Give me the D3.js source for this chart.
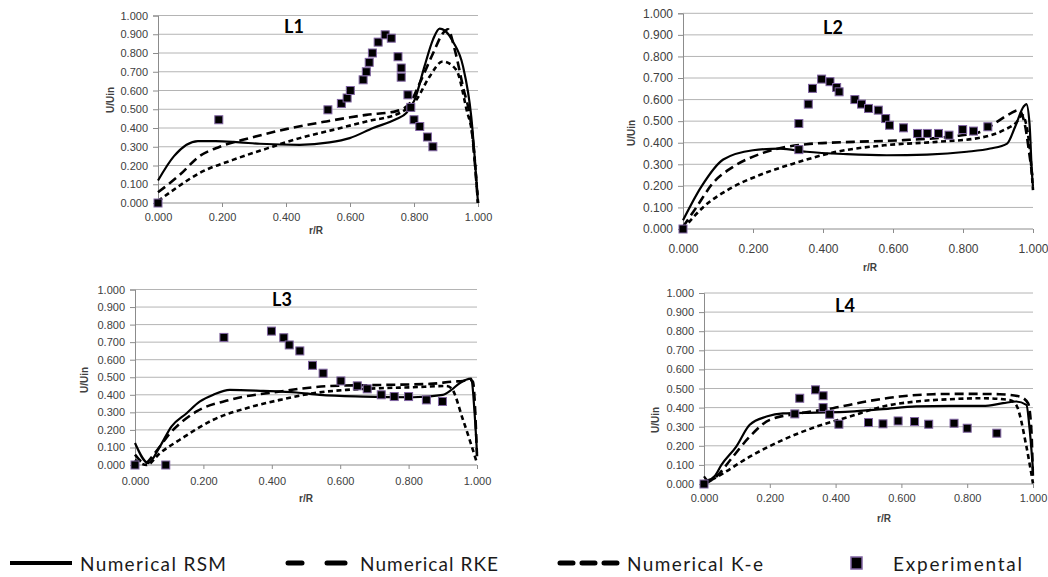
<!DOCTYPE html>
<html>
<head>
<meta charset="utf-8">
<script src="https://cdn.jsdelivr.net/npm/d3@7"></script>
<style>
  body { margin: 0; background: #fff; }
  svg { display: block; }
  .tick text { font-family: "Liberation Sans", Arial, sans-serif; fill: #404040; }
</style>
</head>
<body>
<div id="chart"></div>
<script>
// axis ticks
var xTicks = [0, 0.2, 0.4, 0.6, 0.8, 1.0];
var yTicks = [0, 0.1, 0.2, 0.3, 0.4, 0.5, 0.6, 0.7, 0.8, 0.9, 1.0];

var seriesNames = ["Numerical RSM", "Numerical RKE", "Numerical K-e", "Experimental"];

// L1  [r/R, U/Uin]
var l1Rsm = [[0,0.12],[0.05,0.25],[0.125,0.33],[0.18,0.33],[0.255,0.323],[0.318,0.316],[0.443,0.31],[0.536,0.323],
  [0.599,0.346],[0.672,0.40],[0.745,0.448],[0.776,0.48],[0.802,0.55],[0.833,0.73],[0.859,0.87],[0.88,0.93],
  [0.896,0.92],[0.922,0.86],[0.953,0.73],[0.979,0.46],[1.0,0.0]];
var l1Rke = [[0,0.057],[0.068,0.15],[0.13,0.25],[0.193,0.30],[0.286,0.346],[0.40,0.394],[0.526,0.435],[0.651,0.47],
  [0.745,0.49],[0.786,0.53],[0.818,0.64],[0.86,0.80],[0.89,0.905],[0.906,0.927],[0.927,0.82],[0.953,0.62],
  [0.979,0.41],[1.0,0.0]];
var l1Ke = [[0,0.01],[0.057,0.08],[0.13,0.16],[0.234,0.23],[0.339,0.29],[0.443,0.346],[0.547,0.39],[0.651,0.435],
  [0.755,0.48],[0.807,0.55],[0.849,0.675],[0.89,0.755],[0.932,0.71],[0.964,0.50],[0.984,0.34],[1.0,0.0]];
var l1Exp = [[0,0],[0.19,0.444],[0.531,0.497],[0.573,0.531],[0.591,0.56],[0.601,0.60],[0.641,0.657],[0.651,0.70],
  [0.66,0.75],[0.67,0.80],[0.688,0.858],[0.71,0.897],[0.729,0.879],[0.75,0.78],[0.76,0.72],[0.76,0.671],
  [0.781,0.577],[0.79,0.51],[0.80,0.444],[0.818,0.408],[0.842,0.352],[0.859,0.30]];

// L2
var l2Rsm = [[0,0.04],[0.052,0.195],[0.115,0.322],[0.2,0.365],[0.277,0.373],[0.353,0.358],[0.468,0.347],[0.582,0.342],
  [0.697,0.345],[0.811,0.358],[0.878,0.373],[0.926,0.396],[0.949,0.474],[0.973,0.567],[0.981,0.579],[0.99,0.49],
  [0.997,0.257],[1.0,0.195]];
var l2Rke = [[0,0.01],[0.038,0.10],[0.086,0.214],[0.143,0.288],[0.229,0.353],[0.353,0.393],[0.487,0.404],[0.63,0.412],
  [0.773,0.43],[0.849,0.45],[0.897,0.497],[0.935,0.535],[0.959,0.551],[0.978,0.474],[0.992,0.319],[1.0,0.226]];
var l2Ke = [[0,0],[0.057,0.10],[0.134,0.187],[0.219,0.25],[0.315,0.303],[0.439,0.358],[0.582,0.389],[0.725,0.404],
  [0.849,0.423],[0.916,0.458],[0.954,0.497],[0.969,0.528],[0.988,0.412],[1.0,0.18]];
var l2Exp = [[0,0],[0.331,0.368],[0.331,0.489],[0.358,0.579],[0.37,0.652],[0.396,0.695],[0.42,0.683],[0.439,0.656],
  [0.446,0.636],[0.491,0.60],[0.51,0.579],[0.53,0.559],[0.558,0.551],[0.579,0.512],[0.59,0.481],[0.63,0.469],
  [0.67,0.443],[0.698,0.443],[0.73,0.443],[0.76,0.435],[0.799,0.461],[0.83,0.454],[0.871,0.474]];

// L3
var l3Rsm = [[0,0.125],[0.039,0.011],[0.073,0.106],[0.107,0.22],[0.151,0.295],[0.19,0.362],[0.229,0.40],[0.277,0.428],
  [0.375,0.422],[0.472,0.413],[0.54,0.40],[0.667,0.39],[0.813,0.386],[0.90,0.40],[0.925,0.428],[0.949,0.466],
  [0.983,0.492],[0.993,0.295],[1.0,0.068]];
var l3Rke = [[0,0.059],[0.029,0.011],[0.058,0.068],[0.102,0.18],[0.18,0.305],[0.277,0.371],[0.424,0.419],[0.57,0.45],
  [0.716,0.456],[0.862,0.462],[0.93,0.475],[0.959,0.479],[0.979,0.485],[0.988,0.475],[1.0,0.05]];
var l3Ke = [[0,0.03],[0.034,0],[0.073,0.068],[0.131,0.144],[0.229,0.258],[0.326,0.324],[0.424,0.371],[0.521,0.409],
  [0.618,0.428],[0.716,0.4375],[0.813,0.443],[0.91,0.45],[0.925,0.4375],[0.959,0.258],[1.0,0.011]];
var l3Exp = [[0,0],[0.09,0],[0.26,0.727],[0.399,0.763],[0.435,0.725],[0.451,0.684],[0.482,0.65],[0.519,0.568],
  [0.55,0.523],[0.602,0.479],[0.65,0.451],[0.679,0.434],[0.72,0.40],[0.758,0.39],[0.80,0.39],[0.852,0.371],[0.899,0.362]];

// L4
var l4Rsm = [[0,0.04],[0.012,0.02],[0.032,0.04],[0.053,0.10],[0.098,0.196],[0.139,0.31],[0.19,0.353],[0.24,0.37],
  [0.341,0.374],[0.443,0.379],[0.544,0.392],[0.645,0.406],[0.747,0.409],[0.848,0.409],[0.909,0.423],[0.949,0.432],
  [0.98,0.414],[0.99,0.283],[1.0,0.073]];
var l4Rke = [[0,0],[0.037,0.038],[0.088,0.143],[0.139,0.248],[0.20,0.336],[0.291,0.37],[0.392,0.397],[0.493,0.432],
  [0.595,0.458],[0.696,0.47],[0.797,0.472],[0.899,0.47],[0.959,0.458],[0.985,0.423],[0.995,0.283],[1.0,0.02]];
var l4Ke = [[0,0],[0.058,0.056],[0.139,0.143],[0.24,0.231],[0.341,0.30],[0.443,0.353],[0.544,0.406],[0.645,0.432],
  [0.747,0.444],[0.848,0.449],[0.929,0.44],[0.949,0.414],[0.98,0.196],[1.0,0.003]];
var l4Exp = [[0,0],[0.276,0.367],[0.291,0.449],[0.339,0.493],[0.362,0.462],[0.362,0.40],[0.382,0.365],[0.41,0.313],
  [0.50,0.322],[0.544,0.315],[0.59,0.33],[0.64,0.327],[0.683,0.313],[0.76,0.318],[0.80,0.292],[0.89,0.266]];

var panels = [
  { title: "L1", rsm: l1Rsm, rke: l1Rke, ke: l1Ke, exp: l1Exp,
    x0: 158, x1: 478, y0: 203, y1: 15.5, titleXY: [294, 33], xLab: [316, 234], yLab: [110, 100], fs: 11, tdy: 14 },
  { title: "L2", rsm: l2Rsm, rke: l2Rke, ke: l2Ke, exp: l2Exp,
    x0: 683, x1: 1033, y0: 229, y1: 13.3, titleXY: [833, 34], xLab: [870, 271], yLab: [631, 133], fs: 12, tdy: 19 },
  { title: "L3", rsm: l3Rsm, rke: l3Rke, ke: l3Ke, exp: l3Exp,
    x0: 135, x1: 477, y0: 465, y1: 289.5, titleXY: [282, 306], xLab: [306, 502], yLab: [84, 380], fs: 11, tdy: 16 },
  { title: "L4", rsm: l4Rsm, rke: l4Rke, ke: l4Ke, exp: l4Exp,
    x0: 704, x1: 1033, y0: 484, y1: 293, titleXY: [845, 312], xLab: [884, 522], yLab: [655, 420], fs: 11, tdy: 14 }
];

var svg = d3.select("#chart").append("svg")
  .attr("width", 1048)
  .attr("height", 577);

var lineStyles = [
  { key: "rsm", width: 2.2, dash: null },
  { key: "rke", width: 2.6, dash: "9,5" },
  { key: "ke", width: 2.6, dash: "5,3.5" }
];

panels.forEach(function (p) {
  var x = d3.scaleLinear().domain([0, 1]).range([p.x0, p.x1]);
  var y = d3.scaleLinear().domain([0, 1]).range([p.y0, p.y1]);
  var g = svg.append("g");

  // gridlines
  g.selectAll(".grid")
    .data(yTicks)
    .enter()
    .append("line")
    .attr("x1", p.x0)
    .attr("x2", p.x1)
    .attr("y1", d => y(d))
    .attr("y2", d => y(d))
    .attr("stroke", d => d === 0 ? "#8c8c8c" : "#b4b4b4")
    .attr("stroke-width", 1);

  var leftAxis = d3.axisLeft(y).tickValues(yTicks).tickFormat(d3.format(".3f")).tickSize(5).tickPadding(5);
  var bottomAxis = d3.axisBottom(x).tickValues(xTicks).tickFormat(d3.format(".3f")).tickSize(4).tickPadding(p.tdy - 8);

  var ya = g.append("g").attr("transform", `translate(${p.x0},0)`).call(leftAxis);
  var xa = g.append("g").attr("transform", `translate(0,${p.y0})`).call(bottomAxis);
  [ya, xa].forEach(function (a) {
    a.select(".domain").attr("stroke", "#8c8c8c");
    a.selectAll(".tick line").attr("stroke", "#8c8c8c");
    a.selectAll(".tick text").attr("font-size", p.fs);
  });
  xa.select(".domain").remove();

  // lines
  lineStyles.forEach(function (s) {
    var line = d3.line()
      .x(d => x(d[0]))
      .y(d => y(d[1]))
      .curve(d3.curveMonotoneX);
    g.append("path")
      .datum(p[s.key])
      .attr("d", line)
      .attr("fill", "none")
      .attr("stroke", "#000")
      .attr("stroke-width", s.width)
      .attr("stroke-dasharray", s.dash)
      .attr("stroke-linejoin", "round");
  });

  // experimental squares
  g.selectAll(".pt")
    .data(p.exp)
    .enter()
    .append("rect")
    .attr("x", d => x(d[0]) - 4)
    .attr("y", d => y(d[1]) - 4)
    .attr("width", 8)
    .attr("height", 8)
    .attr("fill", "#000")
    .attr("stroke", "#8064a2")
    .attr("stroke-width", 1);

  g.append("text")
    .attr("x", p.titleXY[0])
    .attr("y", p.titleXY[1])
    .attr("text-anchor", "middle")
    .attr("font-family", "Lato, 'Open Sans', sans-serif")
    .attr("font-weight", "bold")
    .attr("font-size", 18)
    .attr("fill", "#000")
    .text(p.title);

  g.append("text")
    .attr("x", p.xLab[0])
    .attr("y", p.xLab[1])
    .attr("text-anchor", "middle")
    .attr("font-family", "'Liberation Sans', Arial, sans-serif")
    .attr("font-weight", "bold")
    .attr("font-size", 10)
    .attr("fill", "#404040")
    .text("r/R");

  g.append("text")
    .attr("transform", `translate(${p.yLab[0]},${p.yLab[1]}) rotate(-90)`)
    .attr("dy", "0.35em")
    .attr("text-anchor", "middle")
    .attr("font-family", "'Liberation Sans', Arial, sans-serif")
    .attr("font-weight", "bold")
    .attr("font-size", 10)
    .attr("fill", "#404040")
    .text("U/Uin");
});

// legend
var legend = svg.append("g");
var legendText = [[80, 146], [360, 138], [627, 136], [893, 129]];

legend.append("line").attr("x1", 10).attr("x2", 72).attr("y1", 563).attr("y2", 563)
  .attr("stroke", "#000").attr("stroke-width", 4);
legend.append("line").attr("x1", 288).attr("x2", 302).attr("y1", 563).attr("y2", 563)
  .attr("stroke", "#000").attr("stroke-width", 5).attr("stroke-linecap", "round");
legend.append("line").attr("x1", 327).attr("x2", 345).attr("y1", 563).attr("y2", 563)
  .attr("stroke", "#000").attr("stroke-width", 5).attr("stroke-linecap", "round");
legend.append("line").attr("x1", 560).attr("x2", 617).attr("y1", 563).attr("y2", 563)
  .attr("stroke", "#000").attr("stroke-width", 5).attr("stroke-dasharray", "13,9").attr("stroke-linecap", "round");
legend.append("rect").attr("x", 851).attr("y", 557).attr("width", 11).attr("height", 12)
  .attr("fill", "#000").attr("stroke", "#8064a2").attr("stroke-width", 1.5);

legend.selectAll(".lt")
  .data(seriesNames)
  .enter()
  .append("text")
  .attr("x", (d, i) => legendText[i][0])
  .attr("y", 571)
  .attr("textLength", (d, i) => legendText[i][1])
  .attr("lengthAdjust", "spacing")
  .attr("font-family", "Lato, 'Open Sans', sans-serif")
  .attr("font-size", 19)
  .attr("fill", "#1a1a1a")
  .text(d => d);
</script>
</body>
</html>
